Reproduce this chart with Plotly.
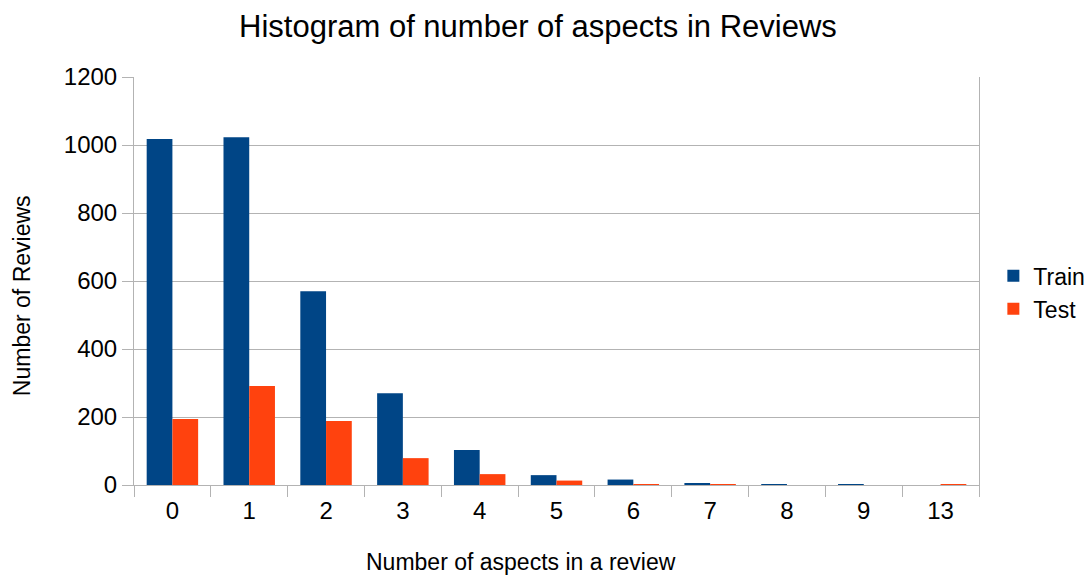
import plotly.graph_objects as go

categories = ["0", "1", "2", "3", "4", "5", "6", "7", "8", "9", "13"]
train = [1018, 1023, 570, 270, 103, 29, 16, 4, 2, 2, 0]
test = [194, 291, 188, 79, 32, 13, 2, 2, 0, 0, 2]

fig = go.Figure()
fig.add_trace(go.Bar(x=categories, y=train, name="Train", marker_color="#004586", marker_line_width=0))
fig.add_trace(go.Bar(x=categories, y=test, name="Test", marker_color="#ff420e", marker_line_width=0))

fig.update_layout(
    width=1092, height=578,
    paper_bgcolor="white", plot_bgcolor="white",
    font=dict(family="Liberation Sans, Arial, sans-serif", color="#000000"),
    title=dict(text="Histogram of number of aspects in Reviews", x=0.4853, xanchor="center",
               y=0.9689, yanchor="middle", font=dict(size=31)),
    margin=dict(l=126, r=121, t=69, b=101, autoexpand=False),
    barmode="group", bargap=0.33, bargroupgap=0,
    legend=dict(x=1.017, y=0.472, xanchor="left", yanchor="middle", font=dict(size=23),
                itemwidth=30),
    xaxis=dict(type="category", tickson="boundaries", ticks="outside", ticklen=11,
               tickcolor="#b3b3b3", showline=True, linecolor="#b3b3b3", mirror=False,
               automargin=False, ticklabelstandoff=4,
               tickfont=dict(size=24)),
    yaxis=dict(range=[0, 1200], dtick=200, showgrid=True, gridcolor="#b3b3b3",
               showline=True, linecolor="#b3b3b3", mirror=True, ticks="outside", ticklen=11,
               tickcolor="#b3b3b3", tickfont=dict(size=24), zeroline=False, automargin=False),
    annotations=[
        dict(text="Number of aspects in a review", xref="paper", yref="paper",
             x=0.458, y=-0.1887, xanchor="center", yanchor="middle", showarrow=False,
             font=dict(size=23)),
        dict(text="Number of Reviews", xref="paper", yref="paper", textangle=-90,
             x=-0.1325, y=0.463, xanchor="center", yanchor="middle", showarrow=False,
             font=dict(size=23)),
    ],
)

fig.write_html("out.html")
